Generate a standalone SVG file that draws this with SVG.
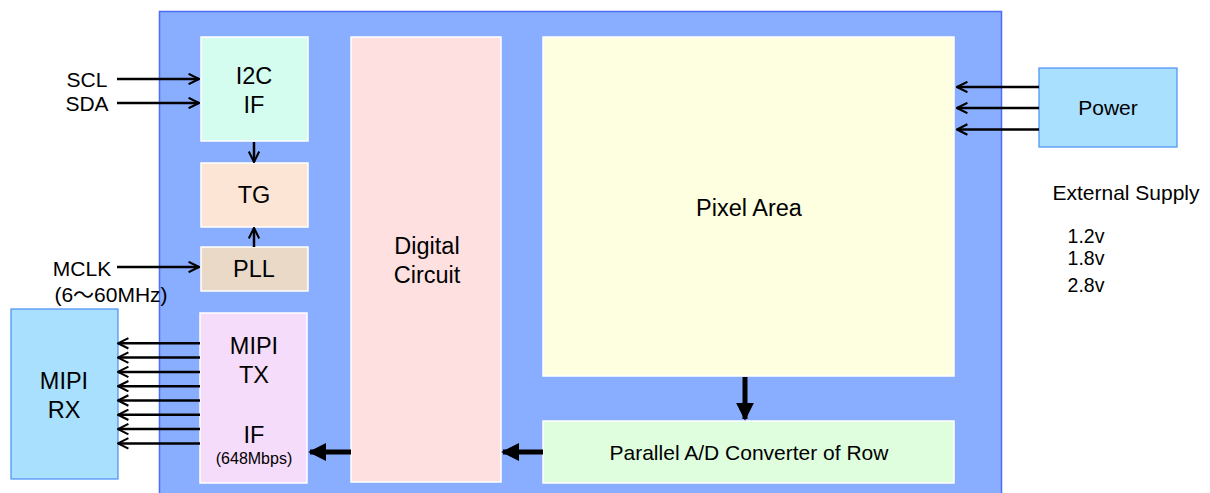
<svg xmlns="http://www.w3.org/2000/svg" width="1210" height="493" viewBox="0 0 1210 493">
<style>
text{font-family:"Liberation Sans",Arial,"Noto Sans CJK JP",sans-serif;fill:#000;text-anchor:middle;dominant-baseline:central}
.blk{stroke:#fff;stroke-width:1.5}
.thin{stroke:#000;stroke-width:2.5;fill:none;marker-end:url(#open)}
.thick{stroke:#000;stroke-width:5;fill:none;marker-end:url(#solid)}
.b{font-size:23.5px}
.l{font-size:21px}
.v{font-size:19.5px}
</style>
<defs>
<marker id="open" viewBox="0 0 12 12" refX="11" refY="6" markerWidth="5" markerHeight="5" orient="auto" markerUnits="strokeWidth">
<path d="M1,1 L11,6 L1,11" fill="none" stroke="#000" stroke-width="2"/>
</marker>
<marker id="solid" viewBox="0 0 10 10" refX="9" refY="5" markerWidth="3.6" markerHeight="3.6" orient="auto" markerUnits="strokeWidth">
<path d="M0,0 L10,5 L0,10 Z" fill="#000"/>
</marker>
</defs>
<rect width="1210" height="493" fill="#fff"/>
<g id="chip"><rect x="159.5" y="11.5" width="842" height="490" fill="#8aaeff" stroke="#4a6ef5" stroke-width="1.5"/></g>
<g id="i2c"><rect class="blk" x="201" y="37" width="107" height="104" fill="#d4fcef"/><text class="b" x="254" y="76">I2C</text><text class="b" x="254" y="105">IF</text></g>
<g id="tg"><rect class="blk" x="201" y="163" width="107" height="64" fill="#fde5d6"/><text class="b" x="254" y="195">TG</text></g>
<g id="pll"><rect class="blk" x="201" y="247" width="107" height="44" fill="#ebd9c8"/><text class="b" x="254" y="269">PLL</text></g>
<g id="mipitx"><rect class="blk" x="200" y="313" width="107" height="170" fill="#f6dcfb"/><text class="b" x="254" y="346">MIPI</text><text class="b" x="254" y="375">TX</text><text class="b" x="254" y="435">IF</text><text x="254" y="458" font-size="16">(648Mbps)</text></g>
<g id="digital"><rect class="blk" x="351" y="37" width="150" height="445" fill="#ffe0e1"/><text class="b" x="427" y="246">Digital</text><text class="b" x="427" y="275">Circuit</text></g>
<g id="pixel"><rect class="blk" x="543" y="37" width="411" height="339" fill="#fefee0"/><text class="b" x="749" y="208">Pixel Area</text></g>
<g id="adc"><rect class="blk" x="543" y="421" width="411" height="62" fill="#defede"/><text class="l" x="749" y="452">Parallel A/D Converter of Row</text></g>
<g id="mipirx"><rect x="11" y="309" width="107" height="170" fill="#a8e0fe" stroke="#4a8ef5" stroke-width="1.2"/><text class="b" x="64" y="381">MIPI</text><text class="b" x="64" y="410">RX</text></g>
<g id="power"><rect x="1039" y="68" width="138" height="79" fill="#a8e0fe" stroke="#4a8ef5" stroke-width="1.2"/><text class="l" x="1108" y="107">Power</text></g>
<g id="labels">
<text class="l" x="87" y="79">SCL</text>
<text class="l" x="87" y="103">SDA</text>
<text class="l" x="82" y="268">MCLK</text>
<text class="l" x="111" y="294">(6〜60MHz)</text>
<text class="l" x="1126" y="192">External Supply</text>
<text class="v" x="1086" y="235.5">1.2v</text>
<text class="v" x="1086" y="257.5">1.8v</text>
<text class="v" x="1086" y="284.5">2.8v</text>
</g>
<g id="connectors">
<line class="thin" x1="117" y1="79" x2="199" y2="79"/>
<line class="thin" x1="117" y1="103" x2="199" y2="103"/>
<line class="thin" x1="117" y1="267" x2="199" y2="267"/>
<line class="thin" x1="254" y1="142" x2="254" y2="162"/>
<line class="thin" x1="254" y1="247" x2="254" y2="228"/>
<line class="thin" x1="200" y1="343.3" x2="118" y2="343.3"/>
<line class="thin" x1="200" y1="357.6" x2="118" y2="357.6"/>
<line class="thin" x1="200" y1="371.9" x2="118" y2="371.9"/>
<line class="thin" x1="200" y1="386.2" x2="118" y2="386.2"/>
<line class="thin" x1="200" y1="400.5" x2="118" y2="400.5"/>
<line class="thin" x1="200" y1="414.8" x2="118" y2="414.8"/>
<line class="thin" x1="200" y1="429.1" x2="118" y2="429.1"/>
<line class="thin" x1="200" y1="443.4" x2="118" y2="443.4"/>
<line class="thin" x1="1039" y1="87" x2="957" y2="87"/>
<line class="thin" x1="1039" y1="108" x2="957" y2="108"/>
<line class="thin" x1="1039" y1="129.5" x2="957" y2="129.5"/>
<line class="thick" x1="745" y1="377" x2="745" y2="419"/>
<line class="thick" x1="543" y1="452" x2="503" y2="452"/>
<line class="thick" x1="351" y1="452" x2="310" y2="452"/>
</g>
</svg>
